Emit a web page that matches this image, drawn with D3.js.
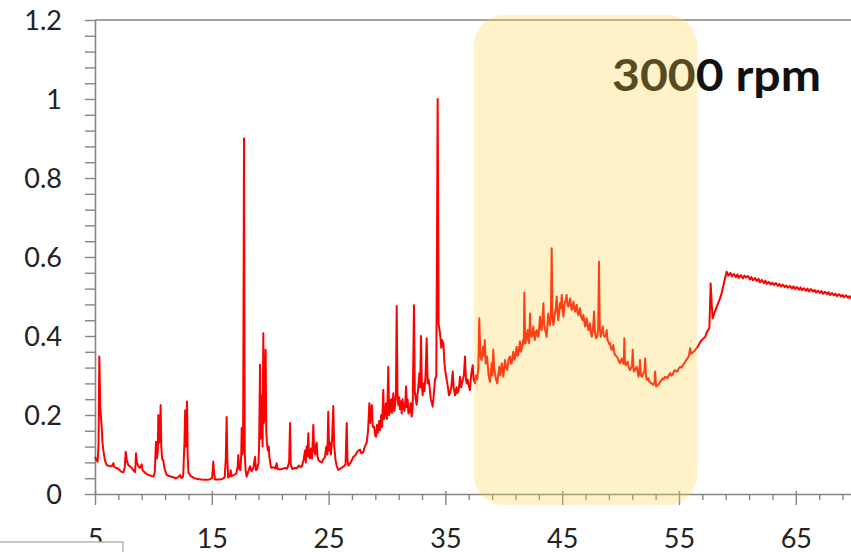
<!DOCTYPE html>
<html>
<head>
<meta charset="utf-8">
<script src="https://cdn.jsdelivr.net/npm/d3@7"></script>
<style>
  html, body { margin: 0; padding: 0; background: #ffffff; overflow: hidden; }
  svg { display: block; }
  text { font-family: Lato, "Open Sans", sans-serif; }
</style>
</head>
<body>
<svg id="chart" width="851" height="552"></svg>
<script>
// Diffraction scan, [2θ (deg), normalised intensity], split by angular range.
const lowAngleScan = [
  [5.00,0.094],[5.12,0.086],[5.22,0.082],[5.30,0.12],[5.37,0.348],[5.45,0.22],[5.57,0.17],[5.64,0.13],
  [5.71,0.111],[5.85,0.085],[6.00,0.073],[6.20,0.071],[6.43,0.070],[6.57,0.078],[6.65,0.068],[6.86,0.066],
  [7.05,0.062],[7.28,0.056],[7.43,0.055],[7.55,0.068],[7.63,0.107],[7.72,0.085],[7.85,0.073],[8.00,0.070],
  [8.14,0.066],[8.30,0.060],[8.42,0.055],[8.47,0.075],[8.51,0.103],[8.58,0.080],[8.71,0.070],[8.85,0.066],
  [9.00,0.075],[9.06,0.062],[9.14,0.058],[9.35,0.052],[9.57,0.048],[9.80,0.046],[10.00,0.044],[10.12,0.055],
  [10.22,0.132],[10.30,0.090],[10.38,0.110],[10.42,0.200],[10.50,0.130],[10.56,0.140],[10.62,0.225],[10.68,0.120],
  [10.75,0.088],[10.85,0.085],[10.95,0.065],[11.14,0.048],[11.40,0.045],[11.65,0.043],[11.90,0.040],[12.10,0.042],
  [12.28,0.048],[12.40,0.040],[12.55,0.045],[12.66,0.130],[12.72,0.212],[12.78,0.120],[12.84,0.160],[12.88,0.234],
  [12.93,0.100],[13.00,0.055],[13.20,0.045],[13.50,0.040],[13.80,0.038],[14.10,0.037],[14.50,0.036],[14.80,0.037],
  [15.02,0.040],[15.08,0.060],[15.13,0.082],[15.19,0.055],[15.28,0.037],[15.60,0.037],[15.90,0.038],[16.10,0.042],
  [16.20,0.090],[16.27,0.195],[16.33,0.090],[16.40,0.042],[16.55,0.045],[16.62,0.060],[16.70,0.045],[16.90,0.048],
  [17.10,0.052],[17.22,0.070],[17.27,0.099],[17.33,0.065],[17.45,0.060],[17.52,0.100],[17.56,0.167],[17.62,0.100],
  [17.68,0.120],[17.76,0.900],[17.82,0.100],[17.90,0.060],[17.98,0.044],[18.10,0.055],[18.27,0.070],[18.40,0.058],
  [18.55,0.065],[18.70,0.094],[18.78,0.060],[18.90,0.065],[19.00,0.080],[19.05,0.120],[19.13,0.327],[19.18,0.140],
  [19.25,0.160],[19.30,0.250],[19.35,0.120],[19.41,0.407],[19.46,0.180],[19.52,0.220],[19.56,0.300],[19.61,0.365],
  [19.66,0.160],[19.72,0.130],[19.80,0.110],[19.88,0.120],[19.93,0.094]
];

const midAngleScan = [
  [20.05,0.070],[20.12,0.066],[20.30,0.068],[20.45,0.065],[20.55,0.078],[20.62,0.064],[20.84,0.062],[21.05,0.064],
  [21.27,0.066],[21.45,0.064],[21.62,0.080],[21.70,0.180],[21.76,0.075],[21.90,0.063],[22.10,0.066],[22.27,0.065],
  [22.45,0.072],[22.60,0.068],[22.70,0.070],[22.85,0.085],[22.98,0.110],[23.05,0.080],[23.12,0.120],[23.20,0.095],
  [23.26,0.154],[23.33,0.100],[23.40,0.090],[23.50,0.115],[23.58,0.090],[23.64,0.130],[23.69,0.175],[23.76,0.110],
  [23.85,0.100],[23.92,0.125],[23.98,0.130],[24.05,0.095],[24.15,0.085],[24.26,0.082],[24.40,0.080],[24.55,0.088],
  [24.69,0.094],[24.80,0.120],[24.90,0.100],[24.97,0.208],[25.05,0.110],[25.12,0.130],[25.20,0.100],[25.30,0.140],
  [25.40,0.223],[25.48,0.120],[25.60,0.085],[25.70,0.070],[25.83,0.061],[26.00,0.064],[26.10,0.066],[26.30,0.070],
  [26.45,0.075],[26.55,0.180],[26.62,0.085],[26.70,0.072],[26.90,0.080],[27.12,0.094],[27.30,0.098],[27.40,0.104],
  [27.54,0.110],[27.70,0.112],[27.80,0.103],[27.97,0.106],[28.10,0.120],[28.26,0.130],[28.38,0.160],[28.49,0.230],
  [28.57,0.180],[28.64,0.210],[28.70,0.225],[28.78,0.170],[28.90,0.170],[28.98,0.150],[29.06,0.145],[29.15,0.175],
  [29.25,0.155],[29.33,0.185],[29.40,0.162],[29.50,0.200],[29.58,0.170],[29.68,0.263],[29.75,0.190],[29.83,0.200],
  [29.92,0.230],[30.00,0.190],[30.05,0.240],[30.11,0.322],[30.18,0.200],[30.25,0.210],[30.35,0.240],[30.42,0.205],
  [30.48,0.230],[30.54,0.255],[30.62,0.210],[30.68,0.220],[30.76,0.250],[30.83,0.476],[30.90,0.250],[30.97,0.225],
  [31.04,0.245],[31.10,0.215],[31.18,0.235],[31.26,0.204],[31.33,0.240],[31.40,0.220],[31.50,0.210],[31.57,0.235],
  [31.63,0.272],[31.70,0.220],[31.76,0.240],[31.83,0.204],[31.95,0.210],[32.03,0.230],[32.11,0.196],[32.20,0.220],
  [32.31,0.478],[32.38,0.260],[32.46,0.240],[32.54,0.226],[32.60,0.250],[32.65,0.260],[32.77,0.306],[32.84,0.270],
  [32.91,0.400],[32.98,0.280],[33.05,0.250],[33.11,0.280],[33.20,0.260],[33.30,0.300],[33.40,0.394],[33.48,0.280],
  [33.56,0.290],[33.63,0.275],[33.70,0.255],[33.75,0.240],[33.85,0.230],[33.91,0.221],[34.00,0.250],[34.11,0.289],
  [34.22,0.300],[34.34,1.000],[34.42,0.430],[34.54,0.407],[34.65,0.370],[34.72,0.390],[34.83,0.380],[34.92,0.330],
  [35.00,0.310],[35.11,0.289],[35.22,0.270],[35.30,0.250],[35.40,0.255],[35.50,0.270],[35.63,0.310],[35.70,0.270],
  [35.83,0.250],[35.95,0.270],[36.00,0.255],[36.11,0.260],[36.20,0.280],[36.25,0.297],[36.35,0.270],[36.49,0.290],
  [36.58,0.300],[36.68,0.348],[36.76,0.290],[36.83,0.280],[36.90,0.290],[36.96,0.280],[37.10,0.263],[37.20,0.300],
  [37.34,0.326],[37.42,0.290],[37.53,0.280],[37.62,0.300],[37.72,0.290],[37.82,0.320]
];

const haloScan = [
  [37.90,0.445],[38.00,0.348],[38.09,0.339],[38.23,0.373],[38.30,0.350],[38.37,0.390],[38.45,0.330],[38.57,0.348],
  [38.70,0.300],[38.82,0.284],[38.96,0.331],[39.03,0.300],[39.10,0.365],[39.17,0.320],[39.24,0.306],[39.34,0.290],
  [39.44,0.280],[39.52,0.300],[39.61,0.322],[39.70,0.300],[39.82,0.331],[39.90,0.310],[39.96,0.297],[40.10,0.339],
  [40.20,0.320],[40.30,0.314],[40.40,0.340],[40.53,0.348],[40.60,0.330],[40.67,0.331],[40.75,0.350],[40.81,0.360],
  [40.90,0.340],[40.96,0.343],[41.03,0.360],[41.10,0.373],[41.17,0.350],[41.24,0.352],[41.31,0.370],[41.38,0.386],
  [41.46,0.360],[41.55,0.369],[41.65,0.390],[41.71,0.380],[41.76,0.510],[41.82,0.400],[41.87,0.382],[41.95,0.400],
  [42.04,0.415],[42.10,0.390],[42.16,0.382],[42.20,0.400],[42.24,0.457],[42.30,0.410],[42.39,0.398],[42.46,0.410],
  [42.53,0.424],[42.60,0.400],[42.67,0.390],[42.74,0.410],[42.82,0.415],[42.90,0.400],[42.96,0.398],[43.03,0.420],
  [43.10,0.449],[43.17,0.420],[43.24,0.415],[43.31,0.440],[43.39,0.483],[43.45,0.430],[43.52,0.415],[43.60,0.410],
  [43.67,0.398],[43.74,0.430],[43.81,0.457],[43.88,0.440],[43.95,0.427],[44.03,0.450],[44.10,0.622],[44.17,0.450],
  [44.24,0.428],[44.31,0.440],[44.38,0.457],[44.45,0.470],[44.53,0.500],[44.60,0.460],[44.67,0.440],[44.74,0.460],
  [44.81,0.483],[44.88,0.470],[44.96,0.504],[45.03,0.470],[45.10,0.449],[45.17,0.470],[45.24,0.487],[45.31,0.490],
  [45.38,0.504],[45.45,0.480],[45.53,0.474],[45.60,0.480],[45.67,0.495],[45.74,0.480],[45.81,0.466],[45.88,0.470],
  [45.96,0.487],[46.03,0.470],[46.10,0.462],[46.17,0.470],[46.24,0.479],[46.31,0.460],[46.38,0.453],[46.45,0.460],
  [46.53,0.470],[46.60,0.450],[46.67,0.445],[46.74,0.440],[46.81,0.453],[46.88,0.440],[46.96,0.424],[47.03,0.430],
  [47.10,0.445],[47.17,0.430],[47.24,0.415],[47.31,0.420],[47.38,0.432],[47.45,0.410],[47.53,0.398],[47.60,0.410],
  [47.67,0.432],[47.73,0.462],[47.80,0.410],[47.90,0.394],[48.00,0.400],[48.08,0.420],[48.15,0.588],[48.22,0.420],
  [48.30,0.398],[48.38,0.410],[48.47,0.424],[48.57,0.400],[48.67,0.398],[48.74,0.400],[48.81,0.415],[48.88,0.390],
  [48.95,0.386],[49.02,0.380],[49.10,0.382],[49.17,0.370],[49.24,0.365],[49.31,0.370],[49.38,0.377],[49.45,0.360],
  [49.52,0.352],[49.60,0.350],[49.67,0.348],[49.74,0.345],[49.81,0.339],[49.88,0.335],[49.95,0.331],[50.04,0.340],
  [50.12,0.343],[50.22,0.330],[50.28,0.340],[50.32,0.394],[50.38,0.330],[50.44,0.326],[50.52,0.330],[50.61,0.335],
  [50.70,0.320],[50.81,0.314],[50.92,0.320],[50.98,0.330],[51.04,0.365],[51.10,0.320],[51.15,0.310],[51.25,0.315],
  [51.38,0.322],[51.45,0.310],[51.53,0.297],[51.60,0.310],[51.66,0.339],[51.73,0.300],[51.81,0.297],[51.88,0.300],
  [51.96,0.306],[52.04,0.310],[52.10,0.343],[52.17,0.300],[52.24,0.289],[52.31,0.290],[52.38,0.293],[52.45,0.285],
  [52.53,0.284],[52.60,0.280],[52.67,0.280],[52.74,0.280],[52.81,0.276],[52.90,0.280],[52.96,0.310],[53.04,0.272],
  [53.14,0.275],[53.24,0.276],[53.31,0.280],[53.38,0.284],[53.50,0.288],[53.61,0.293],[53.70,0.290],[53.81,0.297],
  [53.92,0.295],[54.01,0.293],[54.12,0.300],[54.24,0.306],[54.34,0.300],[54.44,0.301],[54.55,0.310],[54.67,0.314],
  [54.77,0.310],[54.87,0.310],[54.98,0.318],[55.10,0.322],[55.22,0.320],[55.33,0.326],[55.43,0.330],[55.53,0.335],
  [55.63,0.340],[55.73,0.343],[55.85,0.350],[55.96,0.369],[56.03,0.355],[56.10,0.356],[56.25,0.360],[56.39,0.365],
  [56.53,0.370],[56.68,0.377],[56.82,0.385],[56.96,0.390],[57.10,0.394],[57.25,0.398],[57.38,0.410],[57.50,0.415],
  [57.60,0.420]
];

const highAngleScan = [
  [57.71,0.533],[57.80,0.480],[57.88,0.445],[58.05,0.460],[58.23,0.474],[58.45,0.490],[58.65,0.508],[58.85,0.535],
  [59.08,0.563],[59.22,0.553],[59.40,0.560],[59.52,0.551],[59.70,0.557],[59.88,0.549],[60.00,0.556],[60.12,0.547],
  [60.30,0.554],[60.47,0.546],[60.60,0.553],[60.72,0.548],[60.90,0.552],[61.08,0.543],[61.20,0.549],[61.33,0.541],
  [61.50,0.547],[61.66,0.539],[61.80,0.545],[61.93,0.536],[62.10,0.542],[62.27,0.534],[62.40,0.540],[62.52,0.532],
  [62.70,0.537],[62.86,0.530],[63.00,0.535],[63.13,0.529],[63.30,0.534],[63.47,0.527],[63.60,0.532],[63.73,0.525],
  [63.90,0.530],[64.06,0.524],[64.20,0.528],[64.33,0.522],[64.50,0.527],[64.67,0.520],[64.80,0.526],[64.93,0.519],
  [65.10,0.524],[65.27,0.517],[65.40,0.523],[65.53,0.516],[65.70,0.521],[65.87,0.514],[66.00,0.520],[66.13,0.513],
  [66.30,0.519],[66.47,0.512],[66.60,0.517],[66.73,0.510],[66.90,0.515],[67.07,0.509],[67.20,0.514],[67.33,0.507],
  [67.50,0.512],[67.67,0.506],[67.80,0.511],[67.93,0.504],[68.10,0.509],[68.27,0.503],[68.40,0.507],[68.53,0.501],
  [68.70,0.506],[68.87,0.500],[69.00,0.504],[69.13,0.498],[69.30,0.503],[69.47,0.497],[69.60,0.501],[69.73,0.496],
  [69.90,0.500]
];

const xMajorTicks = [5, 15, 25, 35, 45, 55, 65];
const xMinorTicks = [7, 9, 11, 13, 17, 19, 21, 23, 27, 29, 31, 33, 37, 39, 41, 43, 47, 49, 51, 53, 57, 59, 61, 63, 67, 69];
const yMajorTicks = [0, 0.2, 0.4, 0.6, 0.8, 1, 1.2];
const yMinorTicks = [0.04, 0.08, 0.12, 0.16, 0.24, 0.28, 0.32, 0.36, 0.44, 0.48, 0.52, 0.56,
                     0.64, 0.68, 0.72, 0.76, 0.84, 0.88, 0.92, 0.96, 1.04, 1.08, 1.12, 1.16];
const highlightRange = [37.45, 56.55];   // 2θ span of the amorphous hump
const annotationText = "3000 rpm";

const scan = [...lowAngleScan, ...midAngleScan, ...haloScan, ...highAngleScan];

const svg = d3.select("#chart");
const W = 851, H = 552;

const x = d3.scaleLinear().domain([5, 70]).range([95, 95 + 65 * 11.68]);
const y = d3.scaleLinear().domain([0, 1.2]).range([494, 20]);

const axisColor = "#858585";
const labelColor = "#232323";
const labelSize = 27;

// frame top edge
svg.append("line")
  .attr("x1", x(5)).attr("x2", W)
  .attr("y1", y(1.2)).attr("y2", y(1.2))
  .attr("stroke", axisColor).attr("stroke-width", 1.6);

// y axis: minor ticks, then major ticks with labels
svg.append("g")
  .attr("transform", `translate(${x(5)},0)`)
  .call(d3.axisLeft(y).tickValues(yMinorTicks).tickSize(10).tickSizeOuter(0).tickFormat(""))
  .call(g => g.select(".domain").remove())
  .call(g => g.selectAll("line").attr("stroke", axisColor).attr("stroke-width", 1.4));

svg.append("g")
  .attr("transform", `translate(${x(5)},0)`)
  .call(d3.axisLeft(y).tickValues(yMajorTicks).tickSize(10).tickSizeOuter(0).tickPadding(23)
        .tickFormat(d => d3.format("")(+d.toFixed(1))))
  .call(g => g.select(".domain").attr("stroke", axisColor).attr("stroke-width", 1.6))
  .call(g => g.selectAll("line").attr("stroke", axisColor).attr("stroke-width", 1.4))
  .call(g => g.selectAll("text")
      .attr("fill", labelColor).attr("font-size", labelSize)
      .attr("font-family", "Lato, sans-serif").attr("dy", "0.36em"));

// x axis: minor ticks, then major ticks with labels
svg.append("g")
  .attr("transform", `translate(0,${y(0)})`)
  .call(d3.axisBottom(x).tickValues(xMinorTicks).tickSize(6).tickSizeOuter(0).tickFormat(""))
  .call(g => g.select(".domain").remove())
  .call(g => g.selectAll("line").attr("stroke", axisColor).attr("stroke-width", 1.4));

svg.append("g")
  .attr("transform", `translate(0,${y(0)})`)
  .call(d3.axisBottom(x).tickValues(xMajorTicks).tickSize(11).tickSizeOuter(0).tickFormat(d3.format("d")))
  .call(g => g.select(".domain").attr("stroke", axisColor).attr("stroke-width", 1.6))
  .call(g => g.selectAll(".tick line").attr("y1", -3).attr("stroke", axisColor).attr("stroke-width", 1.4))
  .call(g => g.selectAll("text")
      .attr("fill", labelColor).attr("font-size", labelSize)
      .attr("font-family", "Lato, sans-serif").attr("y", 54).attr("dy", 0));

// diffraction trace
const line = d3.line().x(d => x(d[0])).y(d => y(d[1]));
svg.append("path")
  .datum(scan)
  .attr("d", line)
  .attr("fill", "none")
  .attr("stroke", "#ff0000")
  .attr("stroke-width", 2)
  .attr("stroke-linejoin", "round");

// speed label
svg.append("text")
  .attr("x", 612).attr("y", 91)
  .attr("font-family", "Lato, sans-serif")
  .attr("font-weight", 700)
  .attr("font-size", 43)
  .attr("fill", "#111111")
  .attr("textLength", 209)
  .attr("lengthAdjust", "spacingAndGlyphs")
  .text(annotationText);

// translucent highlight over the amorphous hump
svg.append("rect")
  .attr("x", x(highlightRange[0]))
  .attr("y", y(1.2) - 5)
  .attr("width", x(highlightRange[1]) - x(highlightRange[0]))
  .attr("height", y(0) + 11 - (y(1.2) - 5))
  .attr("rx", 30).attr("ry", 30)
  .attr("fill", "#ffd04a")
  .attr("fill-opacity", 0.3);

// corner of an overlapping panel, bottom left
svg.append("rect")
  .attr("x", -2).attr("y", 542)
  .attr("width", 125).attr("height", 20)
  .attr("fill", "#ffffff")
  .attr("stroke", "#a3a3a3").attr("stroke-width", 1.2);
</script>
</body>
</html>
